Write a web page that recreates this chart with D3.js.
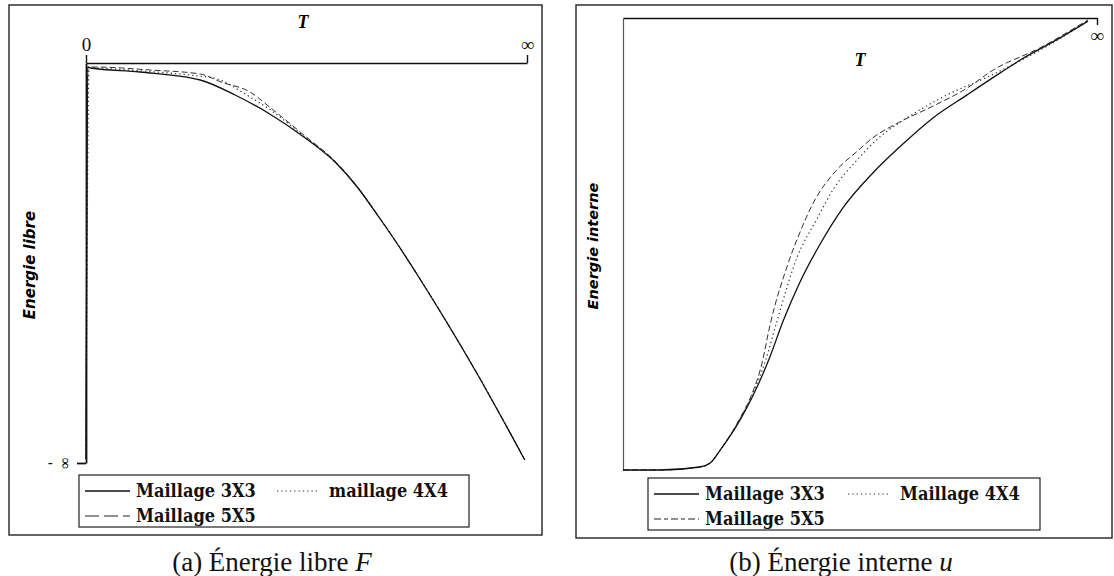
<!DOCTYPE html>
<html>
<head>
<meta charset="utf-8">
<script src="https://cdn.jsdelivr.net/npm/d3@7"></script>
<style>
  body { margin: 0; background: #fff; }
  svg { display: block; }
</style>
</head>
<body>
<svg id="chart"></svg>
<script>
// ---- data (normalised: T from 0 to "infinity" = 1) ----
// (a) free energy F, 0 at the top, -1 = -infinity at the bottom
const fT3 = [0, 0.004, 0.011, 0.122, 0.259, 0.338, 0.413, 0.494, 0.567, 0.615, 0.664, 0.703, 0.753, 0.819, 0.882, 0.995];
const fV3 = [-0.99, -0.01, -0.0125, -0.0225, -0.0425, -0.08, -0.125, -0.185, -0.25, -0.31, -0.385, -0.4475, -0.5325, -0.65, -0.7675, -0.9925];
const fT4 = [0, 0.007, 0.1, 0.259, 0.29, 0.372, 0.419, 0.494, 0.567, 0.615, 0.664, 0.703, 0.753, 0.819, 0.882, 0.995];
const fV4 = [-0.99, -0.012, -0.018, -0.033, -0.0375, -0.085, -0.118, -0.183, -0.249, -0.31, -0.385, -0.447, -0.532, -0.65, -0.767, -0.992];
const fT5 = [0, 0.004, 0.02, 0.145, 0.259, 0.306, 0.372, 0.419, 0.494, 0.567, 0.615, 0.664, 0.703, 0.753, 0.819, 0.882, 0.995];
const fV5 = [-0.99, -0.01, -0.01, -0.0175, -0.0275, -0.0475, -0.0725, -0.1125, -0.18, -0.248, -0.309, -0.384, -0.447, -0.532, -0.65, -0.767, -0.992];

// (b) internal energy u, 0 at the bottom, 1 at the top
const uT3 = [0, 0.078, 0.162, 0.184, 0.205, 0.247, 0.272, 0.308, 0.338, 0.373, 0.416, 0.464, 0.527, 0.584, 0.654, 0.726, 0.795, 0.838, 0.922, 0.981];
const uV3 = [0, 0, 0.0066, 0.0155, 0.044, 0.111, 0.16, 0.245, 0.33, 0.415, 0.5, 0.58, 0.657, 0.715, 0.779, 0.83, 0.878, 0.907, 0.956, 0.993];
const uT4 = [0, 0.078, 0.162, 0.184, 0.205, 0.247, 0.272, 0.3, 0.325, 0.367, 0.409, 0.443, 0.494, 0.542, 0.599, 0.684, 0.768, 0.88, 0.981];
const uV4 = [0, 0, 0.0066, 0.0155, 0.044, 0.113, 0.165, 0.24, 0.33, 0.47, 0.555, 0.62, 0.686, 0.737, 0.779, 0.83, 0.869, 0.929, 0.993];
const uT5 = [0, 0.078, 0.162, 0.184, 0.205, 0.247, 0.272, 0.293, 0.31, 0.346, 0.373, 0.401, 0.451, 0.494, 0.527, 0.584, 0.654, 0.726, 0.781, 0.88, 0.981];
const uV5 = [0, 0, 0.0066, 0.0155, 0.044, 0.115, 0.168, 0.235, 0.32, 0.45, 0.525, 0.59, 0.664, 0.705, 0.735, 0.77, 0.805, 0.845, 0.885, 0.934, 0.996];

const legendA = ["Maillage 3X3", "maillage 4X4", "Maillage 5X5"];
const legendB = ["Maillage 3X3", "Maillage 4X4", "Maillage 5X5"];
const xTicksA = ["0", "∞"];
const captionA = ["(a)  Énergie libre ", "F"];
const captionB = ["(b)  Énergie interne ", "u"];

function zip(ts, vs) { return ts.map((t, i) => ({t: t, v: vs[i]})); }

const styles = [
  {dash: null, color: "#111", width: 1.3},
  {dash: "1.3,3", color: "#333", width: 1.2},
  {dash: "6,3", color: "#333", width: 1}
];

let svg = d3.select("#chart")
    .attr("width", 1114)
    .attr("height", 576);

const serif = "'Liberation Serif', 'Times New Roman', serif";
const legendFont = "'DejaVu Serif Condensed', 'DejaVu Serif', serif";
const sans = "'DejaVu Sans', sans-serif";

// ================= panel (a) =================
let gA = svg.append("g");

gA.append("rect")
  .attr("x", 9).attr("y", 5)
  .attr("width", 533).attr("height", 530)
  .attr("fill", "none")
  .attr("stroke", "#222")
  .attr("stroke-width", 1.4);

let xA = d3.scaleLinear().domain([0, 1]).range([86, 527]);
let yA = d3.scaleLinear().domain([-1, 0]).range([463, 63]);

// T axis along the top
gA.append("g")
  .attr("transform", "translate(0," + yA(0) + ")")
  .call(d3.axisTop(xA).tickValues([0, 1]).tickSizeInner(8).tickSizeOuter(0).tickPadding(4)
    .tickFormat((d, i) => xTicksA[i]))
  .call(g => g.selectAll("path, line").attr("stroke", "#111").attr("stroke-width", 1.4))
  .call(g => g.selectAll("text").attr("font-family", serif).attr("font-size", 19).attr("fill", "#111"));

// energy axis on the left
gA.append("g")
  .attr("transform", "translate(" + xA(0) + ",0)")
  .call(d3.axisLeft(yA).tickValues([-1]).tickSizeInner(9).tickSizeOuter(0).tickFormat(() => ""))
  .call(g => g.selectAll("path, line").attr("stroke", "#111").attr("stroke-width", 1.8));

gA.append("text")
  .attr("x", 48).attr("y", yA(-1) + 4)
  .attr("font-family", serif).attr("font-size", 14).attr("font-weight", "bold")
  .text("-");
gA.append("text")
  .attr("transform", "translate(64," + yA(-1) + ") rotate(-90)")
  .attr("text-anchor", "middle").attr("dy", "0.35em")
  .attr("font-family", serif).attr("font-size", 16)
  .text("∞");

gA.append("text")
  .attr("x", 303).attr("y", 28)
  .attr("text-anchor", "middle")
  .attr("font-family", serif).attr("font-style", "italic").attr("font-weight", "bold")
  .attr("font-size", 18)
  .text("T");

gA.append("text")
  .attr("transform", "translate(35,265) rotate(-90)")
  .attr("text-anchor", "middle")
  .attr("font-family", sans)
  .attr("font-style", "italic").attr("font-weight", "bold")
  .attr("font-size", 15)
  .text("Energie libre");

let lineA = d3.line()
  .x(d => xA(d.t))
  .y(d => yA(d.v))
  .curve(d3.curveMonotoneX);

[zip(fT5, fV5), zip(fT4, fV4), zip(fT3, fV3)].forEach((s, k) => {
  let st = styles[2 - k];
  gA.append("path")
    .datum(s)
    .attr("fill", "none")
    .attr("stroke", st.color)
    .attr("stroke-width", st.width)
    .attr("stroke-dasharray", st.dash)
    .attr("d", lineA);
});

// ================= panel (b) =================
let gB = svg.append("g");

gB.append("rect")
  .attr("x", 576).attr("y", 5)
  .attr("width", 536).attr("height", 533)
  .attr("fill", "none")
  .attr("stroke", "#222")
  .attr("stroke-width", 1.4);

let xB = d3.scaleLinear().domain([0, 1]).range([623, 1097]);
let yB = d3.scaleLinear().domain([0, 1]).range([470, 18]);

gB.append("g")
  .attr("transform", "translate(0," + yB(1) + ")")
  .call(d3.axisBottom(xB).tickValues([1]).tickSizeInner(7).tickSizeOuter(0).tickPadding(4)
    .tickFormat(() => "∞"))
  .call(g => g.selectAll("path, line").attr("stroke", "#111").attr("stroke-width", 1.4))
  .call(g => g.selectAll("text").attr("font-family", serif).attr("font-size", 19).attr("font-weight", "bold").attr("fill", "#111"));

gB.append("g")
  .attr("transform", "translate(" + xB(0) + ",0)")
  .call(d3.axisLeft(yB).tickValues([]).tickSizeOuter(0))
  .call(g => g.select("path").attr("stroke", "#555").attr("stroke-width", 1.2));

gB.append("text")
  .attr("x", 860).attr("y", 66)
  .attr("text-anchor", "middle")
  .attr("font-family", serif).attr("font-style", "italic").attr("font-weight", "bold")
  .attr("font-size", 18)
  .text("T");

gB.append("text")
  .attr("transform", "translate(598,246) rotate(-90)")
  .attr("text-anchor", "middle")
  .attr("font-family", sans)
  .attr("font-style", "italic").attr("font-weight", "bold")
  .attr("font-size", 14.5)
  .text("Energie interne");

let lineB = d3.line()
  .x(d => xB(d.t))
  .y(d => yB(d.v))
  .curve(d3.curveMonotoneX);

[zip(uT5, uV5), zip(uT4, uV4), zip(uT3, uV3)].forEach((s, k) => {
  let st = styles[2 - k];
  gB.append("path")
    .datum(s)
    .attr("fill", "none")
    .attr("stroke", st.color)
    .attr("stroke-width", st.width)
    .attr("stroke-dasharray", st.dash)
    .attr("d", lineB);
});

// ================= legends =================
function legend(g, names, box, col2, dash5) {
  g.append("rect")
    .attr("x", box.x).attr("y", box.y)
    .attr("width", box.w).attr("height", box.h)
    .attr("fill", "#fff")
    .attr("stroke", "#222")
    .attr("stroke-width", 1.2);

  let rows = [
    {x: box.x + 6, y: box.y + 16, name: names[0], st: styles[0]},
    {x: box.x + col2, y: box.y + 16, name: names[1], st: styles[1]},
    {x: box.x + 6, y: box.y + 41, name: names[2], st: {dash: dash5, color: "#222", width: 1.2}}
  ];

  let item = g.selectAll(null)
    .data(rows)
    .enter()
    .append("g")
    .attr("transform", d => "translate(" + d.x + "," + d.y + ")");

  item.append("line")
    .attr("x1", 0).attr("x2", d => d === rows[1] ? 41 : 45)
    .attr("stroke", d => d.st.color)
    .attr("stroke-width", d => d.st.width)
    .attr("stroke-dasharray", d => d.st.dash);

  item.append("text")
    .attr("x", d => d === rows[1] ? 52 : 51)
    .attr("dy", "0.35em")
    .attr("font-family", legendFont)
    .attr("font-weight", "bold")
    .attr("font-size", 18)
    .attr("fill", "#111")
    .text(d => d.name);
}

legend(gA, legendA, {x: 79, y: 475, w: 390, h: 52}, 198, "14,5");
legend(gB, legendB, {x: 648, y: 478, w: 392, h: 52}, 200, "7,3,4,3");

// ================= captions =================
[[captionA, 272], [captionB, 841]].forEach(c => {
  let t = svg.append("text")
    .attr("x", c[1]).attr("y", 571)
    .attr("text-anchor", "middle")
    .attr("font-family", serif)
    .attr("font-size", 27)
    .attr("fill", "#111");
  t.append("tspan").text(c[0][0]);
  t.append("tspan").attr("font-style", "italic").text(c[0][1]);
});
</script>
</body>
</html>
